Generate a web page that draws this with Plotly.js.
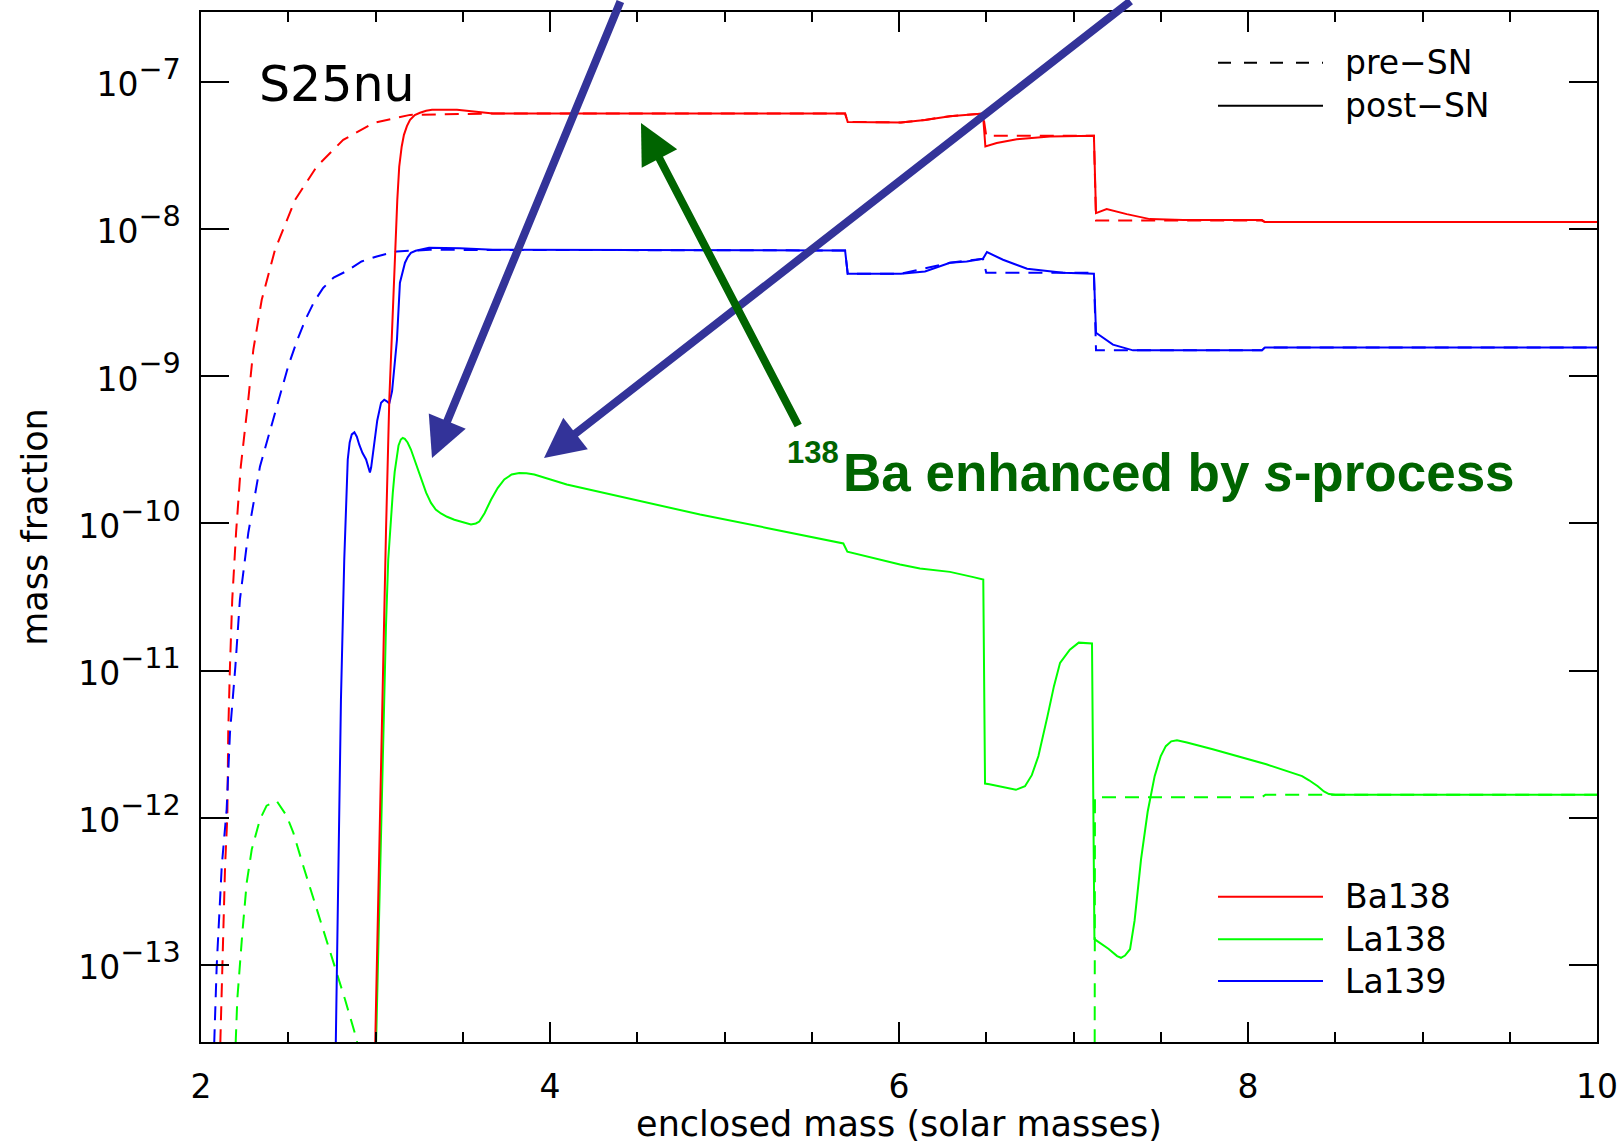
<!DOCTYPE html>
<html>
<head>
<meta charset="utf-8">
<script src="https://cdn.plot.ly/plotly-3.0.1.min.js"></script>
<style>
html, body { margin: 0; padding: 0; background: #ffffff; }
#chart { width: 1620px; height: 1144px; }
</style>
</head>
<body>
<div id="chart"></div>
<script>
// ---------------- data (enclosed mass in solar masses, mass fraction) ----------------
const xBa138Pre = [2.100, 2.122, 2.138, 2.151, 2.156, 2.166, 2.179, 2.201, 2.228, 2.271, 2.300, 2.348, 2.424, 2.539, 2.663, 2.815, 2.987, 3.198, 3.673, 5.691, 5.706, 6.011, 6.149, 6.292, 6.481, 6.500, 7.117, 7.129, 8.080, 8.097, 10.0];
const yBa138Pre = [1e-14, 9.86e-14, 4.71e-13, 1.03e-12, 3.78e-12, 1.07e-11, 3.04e-11, 8.67e-11, 2.44e-10, 6.93e-10, 1.52e-9, 3.31e-9, 7.23e-9, 1.58e-8, 2.66e-8, 4.04e-8, 5.25e-8, 5.97e-8, 6.10e-8, 6.10e-8, 5.35e-8, 5.30e-8, 5.52e-8, 5.85e-8, 6.10e-8, 4.30e-8, 4.30e-8, 1.143e-8, 1.143e-8, 1.116e-8, 1.116e-8];

const xBa138Post = [2.990, 3.026, 3.045, 3.060, 3.079, 3.112, 3.125, 3.136, 3.150, 3.163, 3.180, 3.198, 3.225, 3.255, 3.290, 3.324, 3.467, 3.550, 3.673, 5.691, 5.706, 6.011, 6.149, 6.292, 6.464, 6.481, 6.495, 6.560, 6.675, 6.865, 7.117, 7.129, 7.190, 7.305, 7.438, 7.629, 8.080, 8.097, 10.0];
const yBa138Post = [1e-14, 1.34e-12, 1.07e-11, 8.67e-11, 6.93e-10, 6.87e-9, 1.585e-8, 2.66e-8, 3.63e-8, 4.37e-8, 5.01e-8, 5.52e-8, 5.96e-8, 6.17e-8, 6.37e-8, 6.46e-8, 6.46e-8, 6.31e-8, 6.11e-8, 6.10e-8, 5.35e-8, 5.30e-8, 5.52e-8, 5.85e-8, 6.04e-8, 6.10e-8, 3.64e-8, 3.84e-8, 4.08e-8, 4.26e-8, 4.30e-8, 1.285e-8, 1.367e-8, 1.264e-8, 1.169e-8, 1.151e-8, 1.151e-8, 1.116e-8, 1.116e-8];

const xLa138Pre = [2.184, 2.208, 2.237, 2.262, 2.291, 2.338, 2.376, 2.434, 2.491, 2.529, 2.586, 2.663, 2.749, 2.825, 2.892, 2.960, 5.000, 7.121, 7.123, 8.080, 8.100, 10.0];
const yLa138Pre = [1e-14, 5.86e-14, 1.66e-13, 3.63e-13, 6.11e-13, 9.77e-13, 1.21e-12, 1.30e-12, 1.03e-12, 7.93e-13, 4.71e-13, 2.39e-13, 1.15e-13, 5.86e-14, 3.13e-14, 1e-14, null, 1e-14, 1.38e-12, 1.38e-12, 1.435e-12, 1.435e-12];

const xLa138Post = [2.994, 3.032, 3.050, 3.060, 3.073, 3.085, 3.099, 3.110, 3.120, 3.132, 3.145, 3.156, 3.168, 3.184, 3.203, 3.230, 3.261, 3.290, 3.318, 3.345, 3.375, 3.410, 3.452, 3.500, 3.547, 3.575, 3.595, 3.625, 3.662, 3.700, 3.738, 3.780, 3.824, 3.865, 3.910, 4.096, 4.477, 4.860, 5.242, 5.681, 5.704, 6.006, 6.120, 6.292, 6.426, 6.483, 6.493, 6.518, 6.670, 6.722, 6.761, 6.799, 6.851, 6.888, 6.923, 6.979, 7.030, 7.106, 7.120, 7.200, 7.250, 7.272, 7.295, 7.324, 7.350, 7.387, 7.425, 7.465, 7.500, 7.529, 7.560, 7.593, 7.650, 7.798, 8.105, 8.250, 8.310, 8.350, 8.400, 8.435, 8.464, 8.500, 10.0];
const yLa138Post = [1e-14, 1.03e-12, 6.37e-12, 2.00e-11, 5.69e-11, 1.00e-10, 1.61e-10, 2.24e-10, 2.82e-10, 3.39e-10, 3.72e-10, 3.81e-10, 3.76e-10, 3.55e-10, 3.18e-10, 2.57e-10, 1.99e-10, 1.62e-10, 1.38e-10, 1.245e-10, 1.17e-10, 1.11e-10, 1.06e-10, 1.02e-10, 9.84e-11, 1.00e-10, 1.03e-10, 1.175e-10, 1.45e-10, 1.74e-10, 1.99e-10, 2.15e-10, 2.20e-10, 2.19e-10, 2.15e-10, 1.84e-10, 1.45e-10, 1.15e-10, 9.33e-11, 7.31e-11, 6.44e-11, 5.26e-11, 4.94e-11, 4.69e-11, 4.32e-11, 4.16e-11, 1.71e-12, 1.69e-12, 1.55e-12, 1.64e-12, 1.95e-12, 2.63e-12, 4.91e-12, 7.85e-12, 1.13e-11, 1.39e-11, 1.55e-11, 1.53e-11, 1.50e-13, 1.29e-13, 1.15e-13, 1.12e-13, 1.16e-13, 1.28e-13, 2.00e-13, 5.22e-13, 1.10e-12, 1.92e-12, 2.63e-12, 3.07e-12, 3.31e-12, 3.37e-12, 3.25e-12, 2.92e-12, 2.31e-12, 2.04e-12, 1.92e-12, 1.80e-12, 1.64e-12, 1.51e-12, 1.45e-12, 1.435e-12, 1.435e-12];

const xLa139Pre = [2.063, 2.090, 2.119, 2.147, 2.166, 2.197, 2.223, 2.271, 2.338, 2.443, 2.500, 2.550, 2.600, 2.650, 2.700, 2.760, 2.835, 2.920, 3.007, 3.121, 3.312, 5.691, 5.706, 6.011, 6.292, 6.481, 6.500, 7.117, 7.129, 8.080, 8.097, 10.0];
const yLa139Pre = [1e-14, 9.86e-14, 4.71e-13, 1.14e-12, 3.78e-12, 1.07e-11, 3.04e-11, 8.63e-11, 2.44e-10, 6.93e-10, 1.175e-9, 1.74e-9, 2.45e-9, 3.24e-9, 3.98e-9, 4.68e-9, 5.19e-9, 6.03e-9, 6.52e-9, 7.05e-9, 7.23e-9, 7.16e-9, 4.98e-9, 4.98e-9, 5.91e-9, 6.29e-9, 5.05e-9, 5.05e-9, 1.50e-9, 1.50e-9, 1.571e-9, 1.571e-9];

const xLa139Post = [2.7665, 2.791, 2.802, 2.821, 2.841, 2.852, 2.864, 2.879, 2.893, 2.907, 2.925, 2.946, 2.968, 2.975, 2.993, 3.010, 3.032, 3.050, 3.065, 3.079, 3.095, 3.110, 3.123, 3.140, 3.155, 3.169, 3.185, 3.203, 3.230, 3.255, 3.307, 3.484, 3.673, 5.691, 5.706, 6.011, 6.149, 6.292, 6.388, 6.481, 6.504, 6.596, 6.734, 6.940, 7.117, 7.129, 7.226, 7.341, 8.080, 8.097, 10.0];
const yLa139Post = [1e-14, 1.34e-12, 6.37e-12, 5.69e-11, 2.72e-10, 3.55e-10, 4.03e-10, 4.16e-10, 3.89e-10, 3.43e-10, 3.02e-10, 2.72e-10, 2.22e-10, 2.40e-10, 3.52e-10, 5.01e-10, 6.62e-10, 6.93e-10, 6.76e-10, 6.52e-10, 7.94e-10, 1.175e-9, 1.77e-9, 4.32e-9, 5.13e-9, 5.91e-9, 6.46e-9, 6.90e-9, 7.13e-9, 7.23e-9, 7.46e-9, 7.41e-9, 7.23e-9, 7.16e-9, 4.98e-9, 4.98e-9, 5.15e-9, 5.91e-9, 6.03e-9, 6.29e-9, 6.98e-9, 6.19e-9, 5.38e-9, 5.05e-9, 4.98e-9, 1.976e-9, 1.64e-9, 1.50e-9, 1.50e-9, 1.571e-9, 1.571e-9];

// ---------------- labels ----------------
const isotopeNames = ['Ba138', 'La138', 'La139'];
const isotopeColors = ['#ff0000', '#00ff00', '#0000ff'];
const stageLabels = ['pre\u2212SN', 'post\u2212SN'];
const yTickVals = [1e-13, 1e-12, 1e-11, 1e-10, 1e-9, 1e-8, 1e-7];
const yTickExps = ['\u221213', '\u221212', '\u221211', '\u221210', '\u22129', '\u22128', '\u22127'];
const yTickText = yTickExps.map(e => '<span style="font-size:33px">10</span><sup>' + e + '</sup>');
const modelLabel = 'S25nu';
const xTitle = 'enclosed mass (solar masses)';
const yTitle = 'mass fraction';
const noteSup = '138';
const noteMain = 'Ba enhanced by <i>s</i>-process';

// ---------------- figure geometry helpers ----------------
const W = 1620, H = 1144;
const ML = 201, MR = 23, MT = 12, MB = 102;
const PW = W - ML - MR, PH = H - MT - MB;
const px = X => (X - ML) / PW;           // page px -> paper x
const py = Y => (H - MB - Y) / PH;       // page px -> paper y

const FONT = 'DejaVu Sans';
const DASH = '14px,9px';

const series = [
  {name: 'Ba138 pre-SN', x: xBa138Pre, y: yBa138Pre, c: 0, dash: DASH},
  {name: 'La138 pre-SN', x: xLa138Pre, y: yLa138Pre, c: 1, dash: DASH},
  {name: 'La139 pre-SN', x: xLa139Pre, y: yLa139Pre, c: 2, dash: DASH},
  {name: 'La139 post-SN', x: xLa139Post, y: yLa139Post, c: 2, dash: 'solid'},
  {name: 'La138 post-SN', x: xLa138Post, y: yLa138Post, c: 1, dash: 'solid'},
  {name: 'Ba138 post-SN', x: xBa138Post, y: yBa138Post, c: 0, dash: 'solid'}
];

const traces = series.map(s => ({
  type: 'scatter', mode: 'lines', name: s.name,
  x: s.x, y: s.y, showlegend: false, hoverinfo: 'skip',
  connectgaps: false,
  line: {color: isotopeColors[s.c], width: 2, dash: s.dash}
}));

// ---------------- legend (drawn as shapes + text) ----------------
const legLineX0 = px(1218), legLineX1 = px(1323), legTextX = px(1343);
const stageY = [62.7, 105.7];
const isoY = [896.7, 939.3, 981.0];

const shapes = [];
const annotations = [];
stageLabels.forEach((lab, i) => {
  shapes.push({type: 'line', xref: 'paper', yref: 'paper', x0: legLineX0, x1: legLineX1,
    y0: py(stageY[i]), y1: py(stageY[i]),
    line: {color: '#000', width: 2, dash: i === 0 ? '13px,13px' : 'solid'}});
  annotations.push({xref: 'paper', yref: 'paper', x: legTextX, y: py(stageY[i]),
    xanchor: 'left', yanchor: 'middle', showarrow: false, text: lab,
    font: {family: FONT, size: 33, color: '#000'}});
});
isotopeNames.forEach((lab, i) => {
  shapes.push({type: 'line', xref: 'paper', yref: 'paper', x0: legLineX0, x1: legLineX1,
    y0: py(isoY[i]), y1: py(isoY[i]),
    line: {color: isotopeColors[i], width: 2}});
  annotations.push({xref: 'paper', yref: 'paper', x: legTextX, y: py(isoY[i]),
    xanchor: 'left', yanchor: 'middle', showarrow: false, text: lab,
    font: {family: FONT, size: 33, color: '#000'}});
});

// model label
annotations.push({xref: 'paper', yref: 'paper', x: px(257), y: py(85),
  xanchor: 'left', yanchor: 'middle', showarrow: false, text: modelLabel,
  font: {family: FONT, size: 49, color: '#000'}});

// arrows (x, y = arrow tip; ax, ay = tail offset in px)
const BLUE = '#333399', DGREEN = '#006400';
annotations.push({xref: 'paper', yref: 'paper', x: px(432), y: py(458), axref: 'pixel', ayref: 'pixel',
  ax: 189, ay: -470, text: '', showarrow: true, arrowhead: 2, arrowsize: 1, arrowwidth: 8, arrowcolor: BLUE});
annotations.push({xref: 'paper', yref: 'paper', x: px(544), y: py(458), axref: 'pixel', ayref: 'pixel',
  ax: 588, ay: -472, text: '', showarrow: true, arrowhead: 2, arrowsize: 1, arrowwidth: 8, arrowcolor: BLUE});
annotations.push({xref: 'paper', yref: 'paper', x: px(641), y: py(123), axref: 'pixel', ayref: 'pixel',
  ax: 158, ay: 304, text: '', showarrow: true, arrowhead: 2, arrowsize: 1, arrowwidth: 8, arrowcolor: DGREEN});

// note text
annotations.push({xref: 'paper', yref: 'paper', x: px(785), y: py(453), xanchor: 'left', yanchor: 'middle',
  showarrow: false, text: noteSup,
  font: {family: 'Liberation Sans', size: 31, color: DGREEN, weight: 'bold'}});
annotations.push({xref: 'paper', yref: 'paper', x: px(841), y: py(472), xanchor: 'left', yanchor: 'middle',
  showarrow: false, text: noteMain,
  font: {family: 'Liberation Sans', size: 53, color: DGREEN, weight: 'bold'}});

const axisCommon = {
  showline: true, linecolor: '#000', linewidth: 2, mirror: 'ticks',
  ticks: 'inside', tickcolor: '#000', tickwidth: 2,
  showgrid: false, zeroline: false, automargin: false
};

const layout = {
  width: W, height: H,
  margin: {l: ML, r: MR, t: MT, b: MB, pad: 0},
  paper_bgcolor: '#ffffff', plot_bgcolor: '#ffffff',
  showlegend: false,
  font: {family: FONT, color: '#000'},
  xaxis: Object.assign({}, axisCommon, {
    range: [2, 10], tickmode: 'linear', tick0: 2, dtick: 2, ticklen: 20,
    minor: {dtick: 0.5, tick0: 2, ticks: 'inside', ticklen: 10, tickwidth: 2, tickcolor: '#000', showgrid: false},
    tickfont: {family: FONT, size: 33, color: '#000'},
    ticklabelstandoff: 14,
    title: {text: xTitle, font: {family: FONT, size: 35, color: '#000'}, standoff: 2}
  }),
  yaxis: Object.assign({}, axisCommon, {
    type: 'log', range: [-13.523, -6.525],
    tickmode: 'array', tickvals: yTickVals, ticktext: yTickText, ticklen: 28,
    tickfont: {family: FONT, size: 41, color: '#000'},
    ticklabelstandoff: 10,
    title: {text: yTitle, font: {family: FONT, size: 35, color: '#000'}, standoff: 20}
  }),
  shapes: shapes,
  annotations: annotations
};

Plotly.newPlot('chart', traces, layout, {displayModeBar: false, staticPlot: true});
</script>
</body>
</html>
